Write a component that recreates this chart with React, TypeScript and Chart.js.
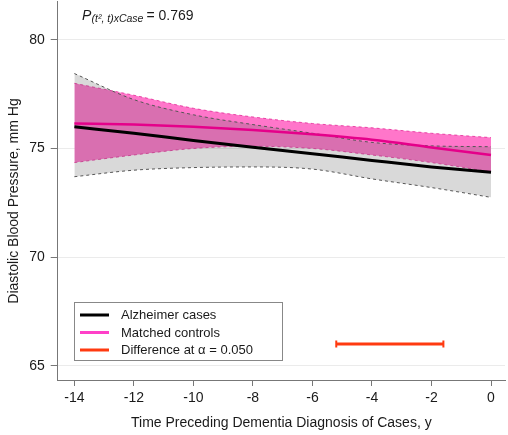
import React, { useEffect, useRef } from "react";
import { Chart, registerables } from "chart.js";

Chart.register(...registerables);

const years = [-14, -12, -10, -8, -6, -4, -2, 0];
const casesMean = [76.0, 75.7, 75.37, 75.06, 74.76, 74.45, 74.15, 73.9];
const casesUpper = [78.45, 77.25, 76.55, 76.1, 75.7, 75.28, 75.12, 75.08];
const casesLower = [73.7, 74.0, 74.12, 74.15, 74.05, 73.6, 73.2, 72.75];
const controlsMean = [76.15, 76.1, 76.0, 75.85, 75.65, 75.4, 75.05, 74.7];
const controlsUpper = [78.0, 77.45, 76.85, 76.45, 76.15, 75.95, 75.7, 75.5];
const controlsLower = [74.35, 74.7, 75.0, 75.1, 75.0, 74.7, 74.35, 73.92];
const diffYears = [-5.2, -1.6];
const diffLevel = [66, 66];
const xTicks = [-14, -12, -10, -8, -6, -4, -2, 0];
const yTicks = [65, 70, 75, 80];

const legendLabels = ["Alzheimer cases", "Matched controls", "Difference at \u03b1 = 0.050"];
const legendColors = ["#000000", "#ff40c8", "#ff3a10"];

const FONT = "'Liberation Sans', Arial, sans-serif";

const pts = (xs: number[], ys: number[]) => xs.map((x, i) => ({ x, y: ys[i] }));

const textPlugin = {
  id: "customText",
  afterDraw(chart: any) {
    const ctx = chart.ctx;
    ctx.save();
    ctx.fillStyle = "#1a1a1a";
    // annotation
    ctx.textBaseline = "alphabetic";
    ctx.textAlign = "left";
    ctx.font = `italic 14px ${FONT}`;
    ctx.fillText("P", 82, 19.5);
    ctx.font = `italic 10.5px ${FONT}`;
    const sub = "(t\u00b2, t)xCase";
    ctx.fillText(sub, 91.5, 22);
    const sw = ctx.measureText(sub).width;
    ctx.font = `14px ${FONT}`;
    ctx.fillText("= 0.769", 91.5 + sw + 3, 19.5);

    // y title
    ctx.save();
    ctx.translate(14, 201);
    ctx.rotate(-Math.PI / 2);
    ctx.textAlign = "center";
    ctx.textBaseline = "middle";
    ctx.font = `14px ${FONT}`;
    ctx.fillText("Diastolic Blood Pressure, mm Hg", 0, 0);
    ctx.restore();

    // x title
    ctx.textAlign = "center";
    ctx.textBaseline = "middle";
    ctx.font = `14px ${FONT}`;
    const ca = chart.chartArea;
    ctx.fillText("Time Preceding Dementia Diagnosis of Cases, y", (ca.left + ca.right) / 2, 423);

    // legend
    const bx = 74.5, by = 302.5, bw = 208, bh = 58;
    ctx.fillStyle = "#ffffff";
    ctx.fillRect(bx, by, bw, bh);
    ctx.strokeStyle = "#888888";
    ctx.lineWidth = 1;
    ctx.strokeRect(bx, by, bw, bh);
    ctx.font = `13px ${FONT}`;
    ctx.textAlign = "left";
    ctx.textBaseline = "middle";
    legendLabels.forEach((lab, i) => {
      const y = 315 + i * 17.5;
      ctx.strokeStyle = legendColors[i];
      ctx.lineWidth = 3;
      ctx.beginPath();
      ctx.moveTo(80, y);
      ctx.lineTo(109, y);
      ctx.stroke();
      ctx.fillStyle = "#1a1a1a";
      ctx.fillText(lab, 121, y + 0.5);
    });
    ctx.restore();
  },
};

const lineBase = { pointRadius: 0, cubicInterpolationMode: "monotone" };

export default function App() {
  const ref = useRef<HTMLCanvasElement>(null);
  useEffect(() => {
    if (!ref.current) return;
    const chart = new Chart(ref.current, {
      type: "line",
      data: {
        datasets: [
          {
            ...lineBase,
            data: pts(years, controlsUpper),
            borderColor: "rgba(228,40,150,0.8)",
            borderDash: [3, 3],
            borderWidth: 1,
            backgroundColor: "rgb(255,118,202)",
            fill: { target: 1 },
            order: 10,
          },
          {
            ...lineBase,
            data: pts(years, controlsLower),
            borderColor: "rgba(228,40,150,0.8)",
            borderDash: [3, 3],
            borderWidth: 1,
            fill: false,
            order: 9,
          },
          {
            ...lineBase,
            data: pts(years, casesUpper),
            borderColor: "#555555",
            borderDash: [3, 3],
            borderWidth: 1,
            backgroundColor: "rgba(90,90,90,0.23)",
            fill: { target: 3 },
            order: 8,
          },
          {
            ...lineBase,
            data: pts(years, casesLower),
            borderColor: "#555555",
            borderDash: [3, 3],
            borderWidth: 1,
            fill: false,
            order: 7,
          },
          {
            ...lineBase,
            data: pts(years, casesMean),
            borderColor: "#000000",
            borderWidth: 3,
            fill: false,
            order: 2,
          },
          {
            ...lineBase,
            data: pts(years, controlsMean),
            borderColor: "#e5008a",
            borderWidth: 2.5,
            fill: false,
            order: 1,
          },
          {
            data: pts(diffYears, diffLevel),
            borderColor: "#ff3a10",
            borderWidth: 3,
            fill: false,
            pointStyle: "line",
            rotation: 90,
            pointRadius: 3.5,
            pointBorderWidth: 2,
            pointBorderColor: "#ff3a10",
            order: 0,
          },
        ],
      },
      options: {
        animation: false,
        responsive: false,
        events: [],
        layout: { autoPadding: false, padding: { top: 1, right: 3, left: 0, bottom: 0 } },
        plugins: {
          legend: { display: false },
          tooltip: { enabled: false },
          title: { display: false },
        },
        scales: {
          x: {
            type: "linear",
            min: -14.56,
            max: 0.47,
            afterBuildTicks: (s: any) => {
              s.ticks = xTicks.map((v) => ({ value: v }));
            },
            afterFit: (s: any) => {
              s.height = 55;
              s.paddingLeft = 0;
              s.paddingRight = 0;
            },
            grid: {
              drawOnChartArea: false,
              tickLength: 6,
              tickColor: "#777777",
            },
            border: { color: "#777777", width: 1 },
            ticks: {
              font: { family: FONT, size: 14 },
              color: "#1a1a1a",
              padding: 4,
              maxRotation: 0,
              callback: (v: any) => String(v),
            },
          },
          y: {
            type: "linear",
            min: 64.34,
            max: 81.79,
            afterBuildTicks: (s: any) => {
              s.ticks = yTicks.map((v) => ({ value: v }));
            },
            afterFit: (s: any) => {
              s.width = 57.7;
              s.paddingTop = 0;
              s.paddingBottom = 0;
            },
            grid: {
              color: "#ebebeb",
              tickLength: 7,
              tickColor: "#777777",
            },
            border: { color: "#777777", width: 1 },
            ticks: {
              font: { family: FONT, size: 14 },
              color: "#1a1a1a",
              padding: 6,
              callback: (v: any) => String(v),
            },
          },
        },
      },
      plugins: [textPlugin],
    } as any);
    return () => chart.destroy();
  }, []);
  return (
    <div style={{ position: "absolute", left: 0, top: 0, width: 508, height: 435, background: "#fff" }}>
      <canvas ref={ref} width={508} height={435} />
    </div>
  );
}
